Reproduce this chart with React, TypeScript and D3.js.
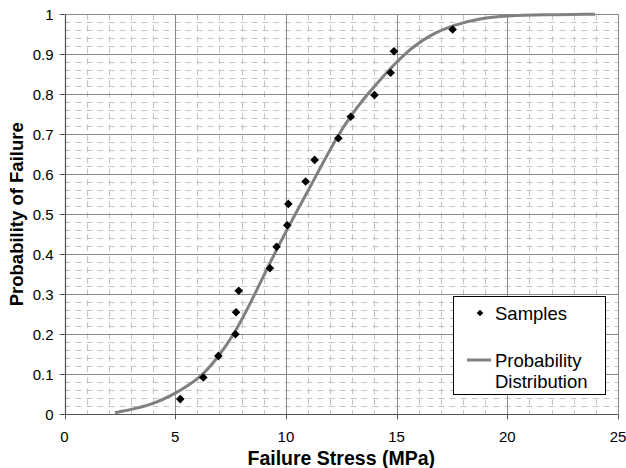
import React from "react";
import * as d3 from "d3";

const sampleStress = [5.23, 6.27, 6.95, 7.72, 7.75, 7.87, 9.28, 9.58, 10.06, 10.11, 10.89, 11.3, 12.37, 12.93, 14.0, 14.73, 14.88, 17.53];
const sampleProb = [0.038, 0.092, 0.146, 0.2, 0.255, 0.309, 0.365, 0.419, 0.4725, 0.526, 0.582, 0.636, 0.69, 0.744, 0.798, 0.854, 0.9075, 0.962];

const curveStress = [2.28, 3.87, 5.04, 6.12, 6.9, 7.7, 8.6, 9.46, 10.42, 11.4, 12.32, 13.0, 13.6, 14.25, 15.0, 15.75, 16.66, 17.56, 18.77, 19.97, 21.5, 23.96];
const curveProb = [0.004, 0.021, 0.0525, 0.09, 0.14, 0.2025, 0.3, 0.4, 0.5, 0.6, 0.695, 0.752, 0.795, 0.836, 0.881, 0.92, 0.9525, 0.973, 0.99, 0.996, 0.999, 1.0];

const xTicks = [0, 5, 10, 15, 20, 25];
const yTicks = [0, 0.1, 0.2, 0.3, 0.4, 0.5, 0.6, 0.7, 0.8, 0.9, 1];
const xMinor = [1, 2, 3, 4, 6, 7, 8, 9, 11, 12, 13, 14, 16, 17, 18, 19, 21, 22, 23, 24];
const yMinorSteps = d3.range(1, 50).filter((i) => i % 5 !== 0);

const FONT = "'Liberation Sans', Arial, sans-serif";

export default function App() {
  const W = 626, H = 468;
  const L = 64.5, R = 618, T = 14.3, B = 414.3;
  const x = d3.scaleLinear().domain([0, 25]).range([L, R]);
  const y = d3.scaleLinear().domain([0, 1]).range([B, T]);

  const line = d3
    .line<number>()
    .x((_, i) => x(curveStress[i]))
    .y((_, i) => y(curveProb[i]))
    .curve(d3.curveBasis);

  const diamond = (cx: number, cy: number, r: number) =>
    `M${cx},${cy - r}L${cx + r},${cy}L${cx},${cy + r}L${cx - r},${cy}Z`;

  return (
    <svg width={W} height={H} style={{ position: "absolute", left: 0, top: 0, background: "#fff" }} fontFamily={FONT}>
      <rect x={0} y={0} width={W} height={H} fill="#fff" />
      {/* minor grid */}
      {yMinorSteps.map((i) => (
        <line key={"hy" + i} x1={L} x2={R} y1={Math.round(y(i * 0.02)) + 0.5} y2={Math.round(y(i * 0.02)) + 0.5}
          stroke="#c4c4c4" strokeWidth={1} strokeDasharray="6,5" />
      ))}
      {xMinor.map((v) => (
        <line key={"vx" + v} x1={Math.round(x(v)) + 0.5} x2={Math.round(x(v)) + 0.5} y1={T} y2={B}
          stroke="#c4c4c4" strokeWidth={1} strokeDasharray="6,5" />
      ))}
      {/* major grid */}
      {yTicks.map((v) => (
        <line key={"gy" + v} x1={L} x2={R} y1={Math.round(y(v)) + 0.5} y2={Math.round(y(v)) + 0.5} stroke="#8a8a8a" strokeWidth={1} />
      ))}
      {xTicks.map((v) => (
        <line key={"gx" + v} x1={Math.round(x(v)) + 0.5} x2={Math.round(x(v)) + 0.5} y1={T} y2={B} stroke="#8a8a8a" strokeWidth={1} />
      ))}
      {/* axes */}
      <line x1={Math.round(L) + 0.5} x2={Math.round(L) + 0.5} y1={T} y2={B} stroke="#555" strokeWidth={1.2} />
      <line x1={L} x2={R} y1={Math.round(B) + 0.5} y2={Math.round(B) + 0.5} stroke="#555" strokeWidth={1.2} />
      {yTicks.map((v) => (
        <g key={"ty" + v}>
          <line x1={L - 5} x2={L} y1={Math.round(y(v)) + 0.5} y2={Math.round(y(v)) + 0.5} stroke="#555" />
          <text x={53.5} y={y(v)} dy="0.36em" textAnchor="end" fontSize={15} fill="#000">
            {d3.format("~g")(v)}
          </text>
        </g>
      ))}
      {xTicks.map((v) => (
        <g key={"tx" + v}>
          <line x1={Math.round(x(v)) + 0.5} x2={Math.round(x(v)) + 0.5} y1={B} y2={B + 5} stroke="#555" />
          <text x={x(v)} y={441.5} textAnchor="middle" fontSize={15} fill="#000">
            {v}
          </text>
        </g>
      ))}
      {/* titles */}
      <text x={(L + R) / 2} y={465} textAnchor="middle" fontSize={19.5} fontWeight="bold">
        Failure Stress (MPa)
      </text>
      <text transform={`translate(22.5,${(T + B) / 2}) rotate(-90)`} textAnchor="middle" fontSize={18.5} fontWeight="bold">
        Probability of Failure
      </text>
      {/* curve */}
      <path d={line(curveStress) || ""} fill="none" stroke="#808080" strokeWidth={3} />
      {/* samples */}
      {sampleStress.map((s, i) => (
        <path key={"s" + i} d={diamond(x(s), y(sampleProb[i]), 4.3)} fill="#000" />
      ))}
      {/* legend */}
      <rect x={453.5} y={296.5} width={152} height={98} fill="#fff" stroke="#000" strokeWidth={1} />
      <path d={diamond(480, 313, 3.3)} fill="#000" />
      <text x={495} y={313} dy="0.36em" fontSize={18.5}>Samples</text>
      <line x1={467} x2={491} y1={360} y2={360} stroke="#808080" strokeWidth={3} />
      <text x={495} y={360} dy="0.36em" fontSize={18.5}>Probability</text>
      <text x={495} y={381.5} dy="0.36em" fontSize={18.5}>Distribution</text>
    </svg>
  );
}
